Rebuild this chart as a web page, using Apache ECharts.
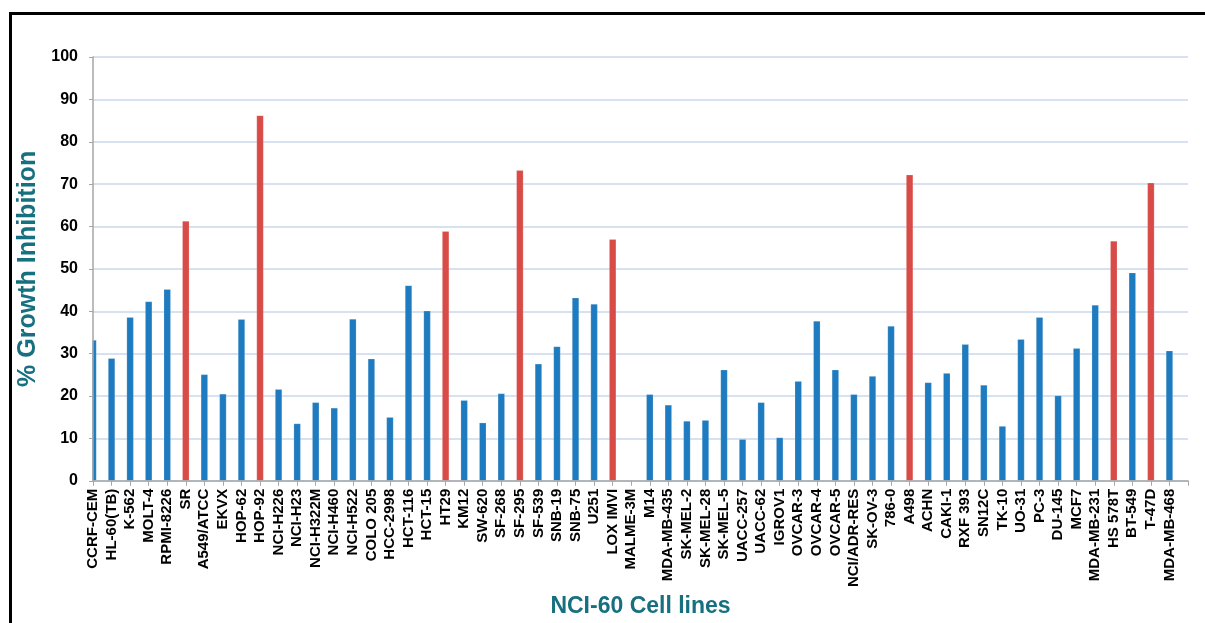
<!DOCTYPE html>
<html>
<head>
<meta charset="utf-8">
<script src="https://cdn.jsdelivr.net/npm/echarts@6/dist/echarts.min.js"></script>
<style>
html,body{margin:0;padding:0;background:#fff;}
#chart{width:1205px;height:623px;}
</style>
</head>
<body>
<div id="chart"></div>
<script>
const cellLines = ['CCRF-CEM','HL-60(TB)','K-562','MOLT-4','RPMI-8226','SR','A549/ATCC','EKVX','HOP-62','HOP-92',
  'NCI-H226','NCI-H23','NCI-H322M','NCI-H460','NCI-H522','COLO 205','HCC-2998','HCT-116','HCT-15','HT29',
  'KM12','SW-620','SF-268','SF-295','SF-539','SNB-19','SNB-75','U251','LOX IMVI','MALME-3M',
  'M14','MDA-MB-435','SK-MEL-2','SK-MEL-28','SK-MEL-5','UACC-257','UACC-62','IGROV1','OVCAR-3','OVCAR-4',
  'OVCAR-5','NCI/ADR-RES','SK-OV-3','786-0','A498','ACHN','CAKI-1','RXF 393','SN12C','TK-10',
  'UO-31','PC-3','DU-145','MCF7','MDA-MB-231','HS 578T','BT-549','T-47D','MDA-MB-468'];
const growthInhibition = [33.2,28.9,38.6,42.3,45.2,61.3,25.1,20.5,38.1,86.2,
  21.6,13.5,18.5,17.2,38.2,28.8,15.0,46.1,40.1,58.9,
  19.0,13.7,20.6,73.3,27.6,31.7,43.2,41.7,57.0,0,
  20.4,17.9,14.1,14.3,26.2,9.8,18.5,10.2,23.5,37.7,
  26.2,20.4,24.7,36.5,72.2,23.2,25.4,32.2,22.6,12.9,
  33.4,38.6,20.1,31.3,41.5,56.6,49.1,70.3,30.7];
const highlighted = ['SR','HOP-92','HT29','SF-295','LOX IMVI','A498','HS 578T','T-47D'];
const yTicks = [0,10,20,30,40,50,60,70,80,90,100];

const BLUE = '#1f7bbf', RED = '#d94b46', TEAL = '#17707f';
const FONT = 'Liberation Sans, Arial, sans-serif';
const axisCats = cellLines.concat(['']);
const barData = cellLines.map((c, i) => ({
  value: growthInhibition[i],
  itemStyle: { color: highlighted.includes(c) ? RED : BLUE }
}));

const GRID = { left: 93, right: 17, top: 57, bottom: 140 };
const chart = echarts.init(document.getElementById('chart'));
chart.setOption({
  animation: false,
  backgroundColor: '#fff',
  graphic: [
    { // mask: bars do not spill left of the plot area (as in the original)
      type: 'rect', silent: true, z: 5,
      shape: { x: 70, y: GRID.top - 5, width: GRID.left - 70 - 0.5, height: 623 - GRID.bottom - GRID.top + 5 },
      style: { fill: '#fff' }
    },
    {
      type: 'rect', silent: true, z: 100,
      shape: { x: 10.5, y: 13.5, width: 1300, height: 800 },
      style: { fill: 'none', stroke: '#000', lineWidth: 3 }
    }
  ],
  grid: Object.assign({ containLabel: false }, GRID),
  xAxis: {
    type: 'category',
    data: axisCats,
    boundaryGap: false,
    z: 10,
    name: 'NCI-60 Cell lines',
    nameLocation: 'middle',
    nameGap: 113,
    nameTextStyle: { color: TEAL, fontSize: 23, fontWeight: 'bold', fontFamily: FONT },
    axisLine: { lineStyle: { color: '#a6a6a6', width: 1.5 } },
    axisTick: { show: true, interval: 0, length: 5, lineStyle: { color: '#a6a6a6' } },
    axisLabel: { interval: 0, rotate: 90, margin: 8, color: '#000', fontSize: 15, fontWeight: 'bold', fontFamily: FONT },
    splitLine: { show: false }
  },
  yAxis: [{
    type: 'value',
    min: yTicks[0], max: yTicks[yTicks.length - 1], interval: 10,
    axisLine: { show: false },
    axisTick: { show: false },
    axisLabel: { show: false },
    splitLine: { lineStyle: { color: '#c9d8ee', width: 1.5 } }
  }, {
    type: 'value',
    position: 'left',
    z: 10,
    min: yTicks[0], max: yTicks[yTicks.length - 1], interval: 10,
    name: '% Growth Inhibition',
    nameLocation: 'middle',
    nameGap: 48,
    nameTextStyle: { color: TEAL, fontSize: 25, fontWeight: 'bold', fontFamily: FONT },
    axisLine: { show: true, lineStyle: { color: '#a6a6a6', width: 1.5 } },
    axisTick: { show: true, length: 4, lineStyle: { color: '#a6a6a6' } },
    axisLabel: { margin: 15, color: '#000', fontSize: 16, fontWeight: 'bold', fontFamily: FONT },
    splitLine: { show: false }
  }],
  series: [{
    type: 'bar',
    yAxisIndex: 0,
    data: barData,
    barWidth: 7,
    itemStyle: { borderColor: 'rgba(255,255,255,0.35)', borderWidth: 0.5 }
  }]
});
</script>
</body>
</html>
